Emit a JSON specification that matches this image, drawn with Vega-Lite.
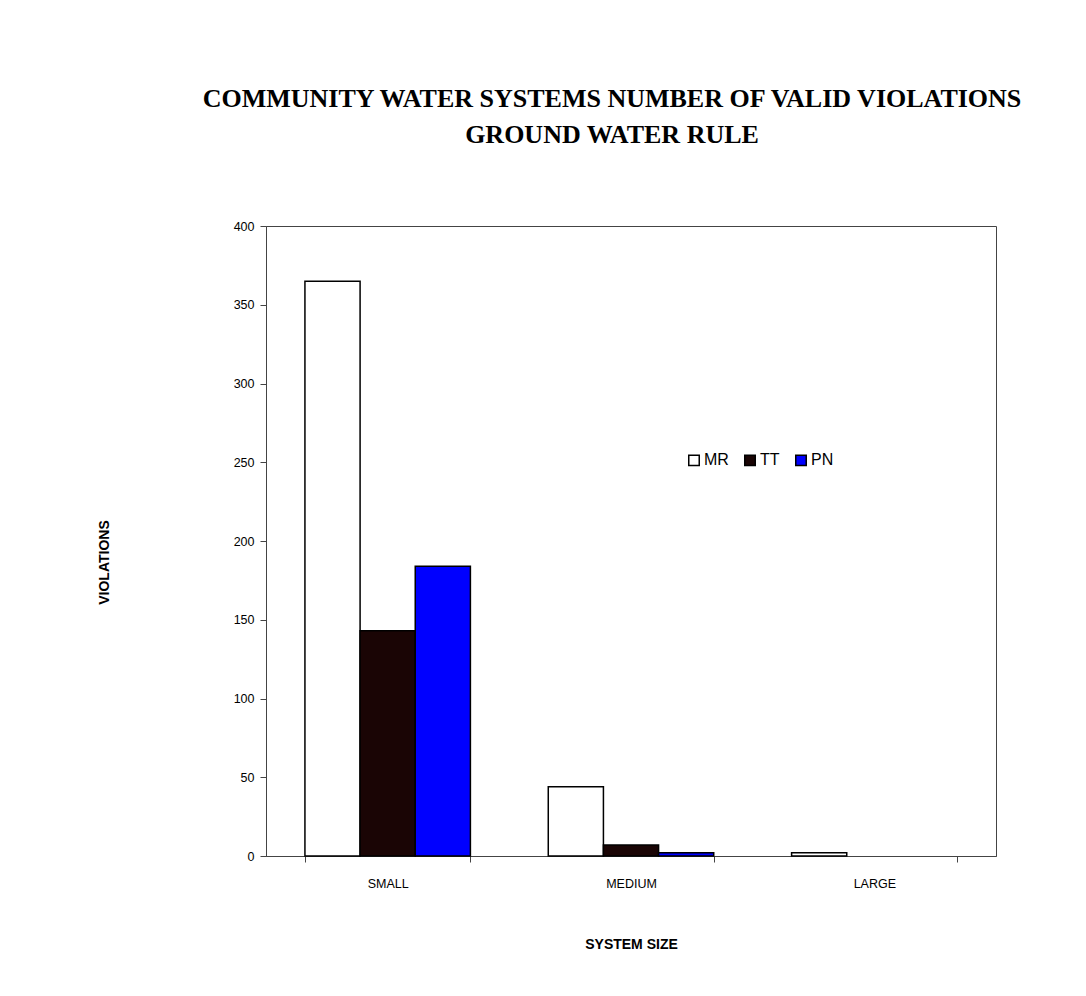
{
  "$schema": "https://vega.github.io/schema/vega-lite/v6.json",
  "autosize": "none",
  "width": 730,
  "height": 630,
  "padding": {"left": 266, "top": 226, "right": 90, "bottom": 140},
  "background": "white",
  "title": {
    "text": ["COMMUNITY WATER SYSTEMS NUMBER OF VALID VIOLATIONS", "GROUND WATER RULE"],
    "font": "Liberation Serif",
    "fontSize": 26,
    "fontWeight": "bold",
    "color": "black",
    "lineHeight": 36,
    "anchor": "middle",
    "frame": "group",
    "dx": -19,
    "offset": 72
  },
  "data": {
    "values": [
      {"size": "SMALL", "type": "MR", "violations": 365},
      {"size": "SMALL", "type": "TT", "violations": 143},
      {"size": "SMALL", "type": "PN", "violations": 184},
      {"size": "MEDIUM", "type": "MR", "violations": 44},
      {"size": "MEDIUM", "type": "TT", "violations": 7},
      {"size": "MEDIUM", "type": "PN", "violations": 2},
      {"size": "LARGE", "type": "MR", "violations": 2}
    ]
  },
  "mark": {"type": "bar", "stroke": "black", "strokeWidth": 1.5},
  "encoding": {
    "x": {
      "field": "size",
      "type": "nominal",
      "sort": ["SMALL", "MEDIUM", "LARGE"],
      "scale": {"paddingInner": 0.32, "paddingOuter": 0.16},
      "axis": {
        "title": "SYSTEM SIZE",
        "titleFont": "Liberation Sans",
        "titleFontSize": 14,
        "titleFontWeight": "bold",
        "titleColor": "black",
        "titlePadding": 48,
        "labelFont": "Liberation Sans",
        "labelFontSize": 12.5,
        "labelColor": "black",
        "labelAngle": 0,
        "labelPadding": 15,
        "tickBand": "extent",
        "tickSize": 6,
        "tickColor": "#444",
        "domainColor": "#444",
        "grid": false
      }
    },
    "xOffset": {"field": "type", "type": "nominal", "sort": ["MR", "TT", "PN"], "scale": {"domain": ["MR", "TT", "PN"]}},
    "y": {
      "field": "violations",
      "type": "quantitative",
      "scale": {"domain": [0, 400], "nice": false},
      "axis": {
        "title": "VIOLATIONS",
        "titleFont": "Liberation Sans",
        "titleFontSize": 14,
        "titleFontWeight": "bold",
        "titleColor": "black",
        "titlePadding": 122,
        "titleY": 336,
        "labelFont": "Liberation Sans",
        "labelFontSize": 12.5,
        "labelColor": "black",
        "labelPadding": 6,
        "values": [0, 50, 100, 150, 200, 250, 300, 350, 400],
        "tickSize": 6,
        "tickColor": "#444",
        "domainColor": "#444",
        "grid": false
      }
    },
    "fill": {
      "field": "type",
      "type": "nominal",
      "scale": {"domain": ["MR", "TT", "PN"], "range": ["#ffffff", "#1a0505", "#0000ff"]},
      "legend": {
        "title": null,
        "orient": "none",
        "legendX": 420,
        "legendY": 226,
        "direction": "horizontal",
        "symbolType": "square",
        "symbolSize": 110,
        "symbolStrokeColor": "black",
        "symbolStrokeWidth": 1.5,
        "labelFont": "Liberation Sans",
        "labelFontSize": 16,
        "labelColor": "black",
        "labelOffset": 2,
        "columnPadding": 12
      }
    }
  },
  "config": {
    "view": {"stroke": "#444", "strokeWidth": 1}
  }
}
